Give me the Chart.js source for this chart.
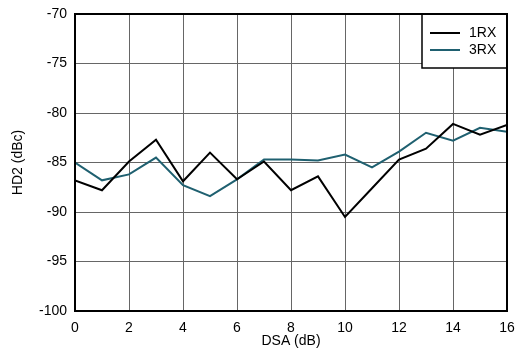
<!DOCTYPE html>
<html>
<head>
<meta charset="utf-8">
<script src="https://cdn.jsdelivr.net/npm/chart.js@4/dist/chart.umd.min.js"></script>
<style>
  html, body { margin: 0; padding: 0; background: #fff; }
  #wrap { width: 515px; height: 354px; }
</style>
</head>
<body>
<div id="wrap"><canvas id="hd2Chart" width="515" height="354"></canvas></div>
<script>
// DSA attenuation steps (dB)
const dsa = [0, 1, 2, 3, 4, 5, 6, 7, 8, 9, 10, 11, 12, 13, 14, 15, 16];
// HD2 values (dBc)
const hd2_1rx = [-86.8, -87.8, -84.9, -82.7, -86.9, -84.0, -86.7, -84.9, -87.8, -86.4, -90.5, -87.6, -84.7, -83.6, -81.1, -82.2, -81.2];
const hd2_3rx = [-85.0, -86.8, -86.2, -84.5, -87.3, -88.4, -86.7, -84.7, -84.7, -84.8, -84.2, -85.5, -83.9, -82.0, -82.8, -81.5, -81.9];
const seriesNames = ["1RX", "3RX"];
const seriesColors = ["#000000", "#1f6070"];

const FONT = "'Liberation Sans', Arial, sans-serif";

function toPoints(ys) {
    return dsa.map((x, i) => ({ x: x, y: ys[i] }));
}

// frame round the plot + boxed legend in the top right corner
const framePlugin = {
    id: "frameAndLegend",
    afterDraw(chart) {
        const ctx = chart.ctx;
        const a = chart.chartArea;
        ctx.save();

        // legend box
        const bx = 422, by = a.top, bw = a.right - 422, bh = 54;
        ctx.fillStyle = "#fff";
        ctx.fillRect(bx, by, bw, bh);
        ctx.strokeStyle = "#000";
        ctx.lineWidth = 1.5;
        ctx.strokeRect(bx, by, bw, bh);

        ctx.font = "14px " + FONT;
        ctx.textBaseline = "middle";
        ctx.textAlign = "left";
        chart.data.datasets.forEach((ds, i) => {
            const y = by + 19 + i * 17;
            ctx.strokeStyle = ds.borderColor;
            ctx.lineWidth = 2;
            ctx.beginPath();
            ctx.moveTo(bx + 8, y);
            ctx.lineTo(bx + 38, y);
            ctx.stroke();
            ctx.fillStyle = "#000";
            ctx.fillText(ds.label, bx + 47, y);
        });

        // outer frame
        ctx.strokeStyle = "#000";
        ctx.lineWidth = 2;
        ctx.strokeRect(a.left, a.top, a.right - a.left, a.bottom - a.top);
        ctx.restore();
    }
};

new Chart(document.getElementById("hd2Chart").getContext("2d"), {
    type: "line",
    data: {
        datasets: [
            { label: seriesNames[0], data: toPoints(hd2_1rx), borderColor: seriesColors[0], borderWidth: 2, pointRadius: 0, tension: 0, fill: false },
            { label: seriesNames[1], data: toPoints(hd2_3rx), borderColor: seriesColors[1], borderWidth: 2, pointRadius: 0, tension: 0, fill: false }
        ]
    },
    options: {
        responsive: false,
        animation: false,
        layout: { padding: { left: 0, right: 8, top: 14, bottom: 0 } },
        plugins: {
            legend: { display: false },
            tooltip: { enabled: false }
        },
        scales: {
            x: {
                type: "linear",
                min: 0,
                max: 16,
                ticks: { stepSize: 2, color: "#000", font: { family: FONT, size: 14 }, padding: 9, maxRotation: 0 },
                grid: { color: "#666", lineWidth: 1, drawTicks: false },
                border: { display: false },
                title: { display: true, text: "DSA (dB)", color: "#000", font: { family: FONT, size: 14 }, padding: { top: 0, bottom: 4 } },
                afterFit: s => { s.height = 43; s.paddingLeft = 0; s.paddingRight = 0; }
            },
            y: {
                min: -100,
                max: -70,
                ticks: { stepSize: 5, color: "#000", font: { family: FONT, size: 14 }, padding: 8 },
                grid: { color: "#666", lineWidth: 1, drawTicks: false },
                border: { display: false },
                title: { display: true, text: "HD2 (dBc)", color: "#000", font: { family: FONT, size: 14 }, padding: { top: 10, bottom: 0 } },
                afterFit: s => { s.width = 75; s.paddingTop = 0; s.paddingBottom = 0; }
            }
        }
    },
    plugins: [framePlugin]
});
</script>
</body>
</html>
